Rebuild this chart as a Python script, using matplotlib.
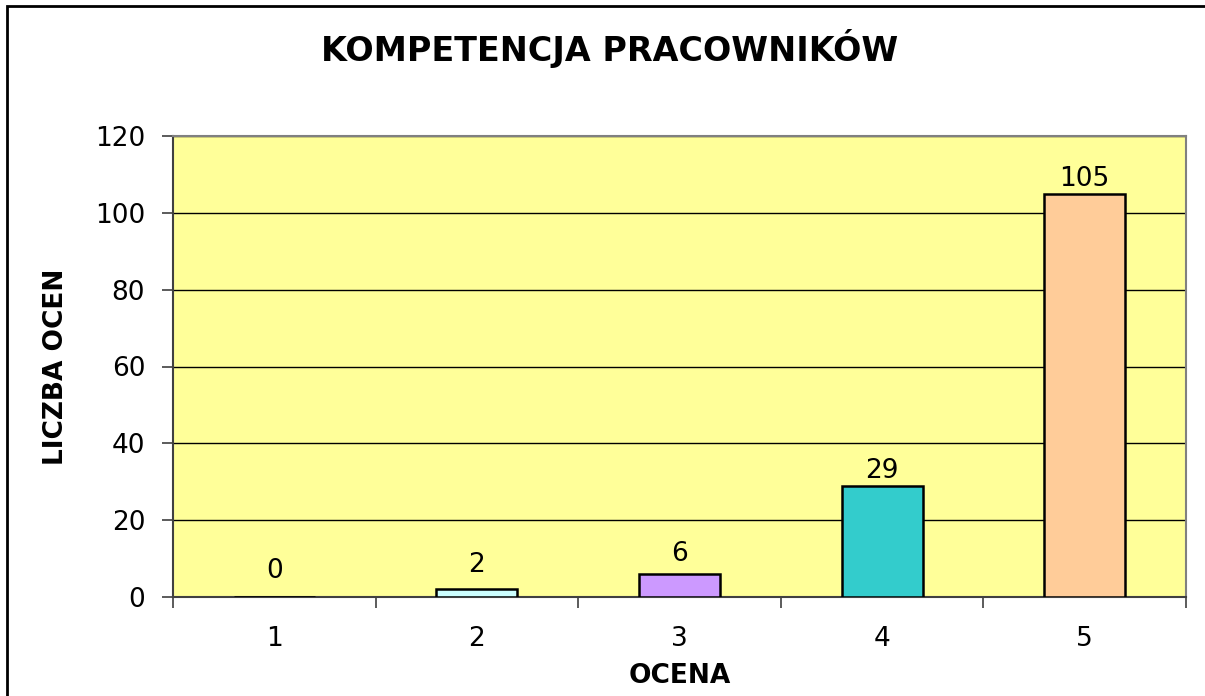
import numpy as np
import matplotlib
matplotlib.use('Agg')
import matplotlib.pyplot as plt
from matplotlib.patches import Rectangle

plt.rcParams['font.family'] = ['DejaVu Sans']

# data
oceny = ['1', '2', '3', '4', '5']
liczba = [0, 2, 6, 29, 105]
kolory = ['#FFFFFF', '#CCFFFF', '#CC99FF', '#33CCCC', '#FFCC99']

fig = plt.figure(figsize=(12.05, 6.96), dpi=100)
ax = fig.add_axes([173 / 1205, 1 - 597 / 696, (1186 - 173) / 1205, (597 - 136) / 696])
ax.set_facecolor('#FFFF99')

x = np.arange(len(oceny))
bars = ax.bar(x, liczba, width=0.4, color=kolory, edgecolor='black', linewidth=1.8, zorder=3)

# value labels above bars (Excel pushes the labels of short bars a bit higher)
for xi, v in zip(x, liczba):
    gap = 1.5 + 8 * max(0, 1 - v / 10)
    ax.annotate(str(v), xy=(xi, v), xytext=(0, gap), textcoords='offset points',
                ha='center', va='bottom', fontsize=19, zorder=4)

ax.set_xlim(-0.5, len(oceny) - 0.5)
ax.set_ylim(0, 120)
ax.set_yticks(np.arange(0, 121, 20))
ax.yaxis.grid(True, color='black', linewidth=1.0, zorder=1)
ax.set_axisbelow(True)

# category labels centred, tick marks between categories
ax.set_xticks(x)
ax.set_xticklabels(oceny)
ax.set_xticks(np.arange(-0.5, len(oceny)), minor=True)
ax.tick_params(axis='x', which='major', length=0, labelsize=19, pad=21)
ax.tick_params(axis='x', which='minor', length=8, width=1.2, color='#404040', direction='out')
ax.tick_params(axis='y', length=8, width=1.2, color='#404040', labelsize=19, pad=12)

for side in ['left', 'bottom']:
    ax.spines[side].set_color('#404040')
    ax.spines[side].set_linewidth(1.5)
for side in ['top', 'right']:
    ax.spines[side].set_color('#808080')
    ax.spines[side].set_linewidth(1.5)

ax.set_xlabel('OCENA', fontsize=19, fontweight='bold', labelpad=8)
ax.set_ylabel('LICZBA OCEN', fontsize=19, fontweight='bold', labelpad=19)
fig.text(0.5055, 1 - 48 / 696, 'KOMPETENCJA PRACOWNIKÓW', ha='center', va='center',
         fontsize=24, fontweight='bold')

# outer chart border
fig.patches.append(Rectangle((7 / 1205, -0.1), 1.2, 1 - 6 / 696 + 0.1, transform=fig.transFigure,
                             fill=False, edgecolor='black', linewidth=2))

fig.savefig('out.png', dpi=100)
